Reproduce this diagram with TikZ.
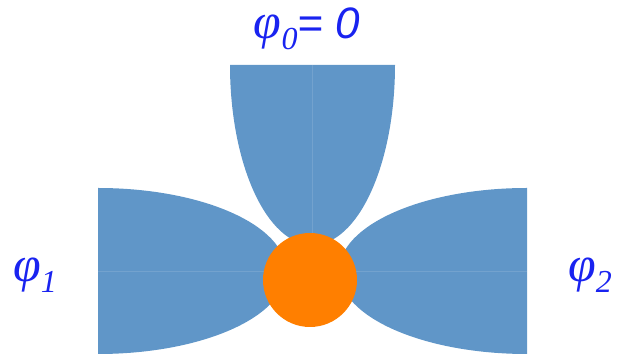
\documentclass[tikz,border=0pt]{standalone}
\usepackage{fontspec}
\setmainfont{Liberation Serif}
\setsansfont{Liberation Sans}
\definecolor{lobeblue}{RGB}{96,150,200}
\definecolor{knotorange}{RGB}{255,127,0}
\definecolor{phiblue}{RGB}{25,35,240}
\newcommand{\phisub}[1]{{\itshape{\fontsize{50}{52}\selectfont φ}\raisebox{-0.5ex}{\fontsize{32}{34}\selectfont #1}}}
\begin{document}
\begin{tikzpicture}[x=1pt, y=1pt,
    lobe/.style={fill=lobeblue},
    seam/.style={white, opacity=0.12, line width=0.8pt},
    philabel/.style={text=phiblue, font=\fontsize{44}{48}\selectfont, inner sep=0pt}]
    \useasboundingbox (0,0) rectangle (619,355);
    % upper lobe hangs down onto the knot
    \fill[lobe] (230,290) arc[start angle=180, end angle=360, x radius=82.5, y radius=180] -- cycle;
    \draw[seam] (312.5,290) -- (312.5,112);
    % side lobes
    \fill[lobe] (98,167) arc[start angle=90, end angle=-90, x radius=188, y radius=83] -- cycle;
    \fill[lobe] (527,167) arc[start angle=90, end angle=270, x radius=188, y radius=83] -- cycle;
    \draw[seam] (98,84) -- (285,84);
    \draw[seam] (340,84) -- (527,84);
    % the knot
    \fill[knotorange] (310,75) circle[radius=47];
    \node[philabel, anchor=base] (phizero) at (307,316) {\phisub{0}{\sffamily\itshape = 0}};
    \node[philabel, anchor=base] (phione) at (35,73) {\phisub{1}};
    \node[philabel, anchor=base] (phitwo) at (590,73) {\phisub{2}};
\end{tikzpicture}
\end{document}
